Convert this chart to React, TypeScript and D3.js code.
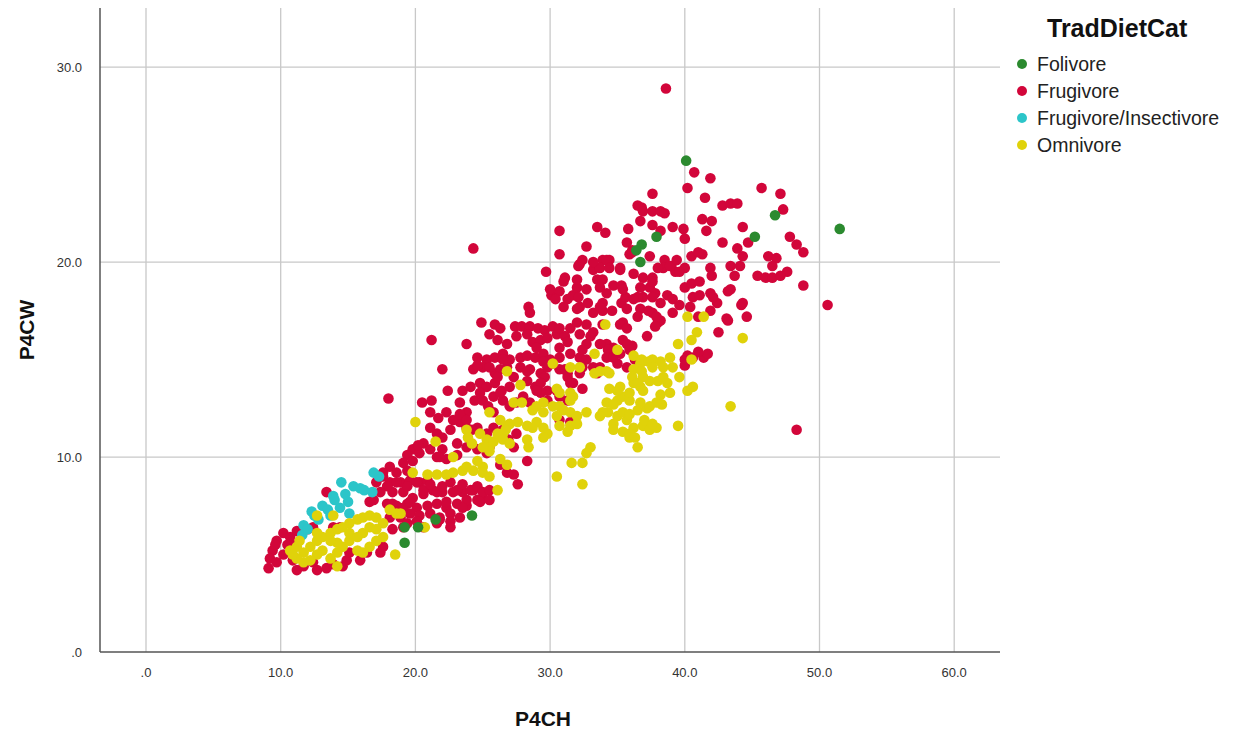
import React from "react";
import * as d3 from "d3";

const categories = ["Folivore", "Frugivore", "Frugivore/Insectivore", "Omnivore"];
const colors = ["#2b8a2f", "#d2063a", "#2cc5c9", "#e0d20a"];
const xTicks = [0, 10, 20, 30, 40, 50, 60];
const yTicks = [0, 10, 20, 30];

const folivore: [number, number][] = [
  [40.1, 25.2], [51.5, 21.7], [46.7, 22.4], [45.2, 21.3], [37.9, 21.3], [36.8, 20.9], [36.4, 20.6], [36.7, 20.0],
  [24.2, 7.0], [19.2, 6.4], [20.2, 6.4], [19.2, 5.6], [21.5, 6.8],
];

const frugInsect: [number, number][] = [
  [16.9, 9.2], [14.5, 8.7], [15.4, 8.5], [15.9, 8.4], [16.8, 8.2], [13.9, 8.0], [15.0, 7.7], [13.1, 7.5], [12.3, 7.2],
  [14.4, 7.4], [11.7, 6.5], [11.6, 6.0], [15.1, 7.1], [13.7, 7.0], [12.8, 6.8], [14.0, 7.8], [16.2, 8.3], [12.0, 6.3],
  [13.5, 7.3], [14.8, 8.1], [17.3, 9.0], [12.5, 7.0],
];

const frugivore: [number, number][] = [
  [40.7, 24.6], [41.9, 24.3], [40.2, 23.8], [37.6, 23.5], [41.5, 23.3], [45.7, 23.8], [47.1, 23.5], [47.3, 22.7],
  [42.8, 22.9], [43.4, 23.0], [43.9, 23.0], [36.8, 22.8], [37.6, 22.6], [38.2, 22.6], [38.5, 22.5], [36.7, 22.1],
  [37.6, 21.9], [38.2, 21.6], [39.1, 21.8], [39.9, 21.7], [40.0, 21.2], [41.3, 22.2], [42.0, 22.1], [41.6, 21.6],
  [44.3, 21.8], [42.8, 21.0], [43.9, 20.7], [44.7, 21.0], [47.8, 21.3], [48.3, 20.9], [48.8, 20.5], [37.4, 20.3],
  [38.5, 20.1], [39.0, 19.8], [38.4, 19.7], [39.3, 19.5], [40.0, 19.7], [40.5, 20.3], [41.3, 20.4], [41.0, 20.5],
  [41.9, 19.7], [42.0, 19.3], [43.4, 19.8], [44.1, 19.8], [43.7, 19.3], [44.3, 20.3], [46.2, 20.3], [46.8, 20.2],
  [46.5, 19.8], [45.4, 19.3], [46.0, 19.2], [46.5, 19.2], [47.6, 19.5], [47.1, 19.3], [48.8, 18.8], [50.6, 17.8],
  [36.9, 19.2], [37.6, 19.2], [37.4, 18.7], [36.9, 18.2], [37.8, 18.4], [38.7, 18.3], [39.1, 18.1], [39.6, 17.8],
  [40.4, 17.7], [40.0, 18.7], [40.5, 18.9], [41.1, 19.0], [41.9, 18.4], [42.4, 17.9], [43.2, 18.5], [44.2, 17.8],
  [44.6, 17.2], [39.1, 17.4], [37.6, 17.4], [38.0, 16.9], [43.2, 17.0], [42.5, 16.4], [38.6, 28.9], [48.3, 11.4],
  [30.7, 21.6], [33.5, 21.8], [34.1, 21.5], [32.7, 20.8], [32.2, 19.9], [33.9, 20.1], [34.4, 20.1], [35.8, 21.7],
  [35.7, 21.0], [36.1, 20.6], [35.2, 19.7], [36.5, 22.9], [36.9, 22.6],
  [24.3, 20.7], [30.7, 20.4], [32.1, 19.8], [32.4, 20.1], [35.9, 20.4], [29.7, 19.5], [31.1, 19.2], [31.0, 19.0],
  [33.2, 19.6], [33.7, 19.7], [34.2, 20.1], [34.4, 19.7], [35.2, 19.6], [33.5, 19.1], [33.9, 19.1], [34.7, 18.8],
  [35.3, 18.8], [38.9, 19.8], [39.4, 20.1], [39.6, 19.5], [43.4, 18.6], [30.1, 18.3], [30.7, 18.5], [30.4, 18.1],
  [31.3, 18.1], [31.7, 18.3], [32.0, 18.7], [32.7, 18.6], [32.2, 17.7], [32.8, 17.9], [33.9, 17.9], [33.9, 17.5],
  [35.3, 17.9], [35.6, 18.2], [36.5, 18.2], [36.7, 17.6], [38.2, 17.9], [40.6, 18.2], [41.1, 18.3], [42.1, 18.2],
  [28.4, 17.7], [28.5, 17.4], [33.2, 17.4], [33.9, 16.8], [35.4, 16.9], [36.5, 17.2], [38.2, 17.0], [41.0, 17.2],
  [41.9, 17.5], [43.1, 17.1], [24.9, 16.9], [25.9, 16.8], [26.3, 16.6], [27.4, 16.7], [27.9, 16.7], [28.5, 16.7],
  [29.1, 16.6], [29.6, 16.5], [30.2, 16.7], [31.5, 16.6], [32.0, 16.9], [32.7, 16.8], [23.8, 15.8], [25.5, 16.3],
  [26.1, 16.0], [26.8, 15.8], [27.5, 16.2], [28.3, 16.3], [28.7, 15.9], [29.3, 16.0], [29.8, 16.1], [30.5, 16.3],
  [31.1, 16.2], [32.2, 16.3], [33.0, 16.2], [34.2, 15.8], [34.7, 15.6], [35.4, 16.0], [36.1, 15.7], [37.2, 16.2],
  [24.6, 15.1], [25.3, 15.0], [25.9, 15.1], [26.5, 15.3], [27.0, 15.0], [27.8, 15.1], [28.3, 15.2], [28.9, 15.1],
  [29.5, 15.3], [30.0, 15.0], [30.7, 15.1], [31.5, 15.3], [32.2, 15.1], [24.3, 14.5], [25.0, 14.6], [25.9, 14.3],
  [26.8, 14.6], [27.8, 14.6], [28.5, 14.5], [29.3, 14.3], [30.7, 14.5], [31.3, 14.3], [32.4, 14.6], [33.7, 14.6],
  [35.0, 14.8], [35.7, 14.6], [40.0, 15.0], [40.6, 15.1], [41.4, 15.1], [41.7, 15.3], [22.0, 14.5],
  [33.2, 20.0], [36.1, 20.5], [36.2, 19.4], [37.6, 19.0], [38.0, 19.7], [32.0, 19.1], [32.1, 18.2], [33.7, 18.7],
  [34.2, 18.4], [35.4, 18.6], [36.7, 18.7], [37.6, 18.2], [30.0, 18.6], [31.0, 17.7], [32.0, 17.6], [33.7, 17.7],
  [34.6, 17.5], [35.7, 17.6], [36.2, 18.1], [37.3, 17.5], [37.9, 17.2], [37.8, 16.7], [30.7, 16.6], [33.2, 16.4],
  [35.2, 16.8], [35.7, 16.6], [29.0, 15.6], [30.7, 15.6], [31.3, 15.9], [32.7, 15.8], [32.4, 15.5], [33.7, 15.8],
  [34.3, 15.5], [35.7, 15.8], [35.9, 15.5], [24.6, 14.7], [29.5, 14.9], [28.3, 14.4], [29.6, 14.1], [26.3, 14.5],
  [24.8, 13.8], [25.3, 13.6], [25.9, 13.8], [26.4, 13.4], [27.0, 13.6], [28.3, 13.9], [28.9, 13.6], [29.3, 13.8],
  [29.8, 13.4], [31.3, 14.1], [31.7, 13.8], [32.4, 13.5], [30.5, 13.4], [23.5, 13.4], [23.3, 12.8], [23.8, 12.3],
  [24.4, 12.9], [25.0, 12.9], [25.4, 12.6], [25.8, 12.3], [26.5, 12.9], [27.0, 12.6], [27.5, 12.8], [28.0, 13.1],
  [28.5, 12.8], [29.3, 13.3], [29.8, 12.9], [30.7, 13.1], [31.3, 12.9], [30.7, 11.9], [31.5, 11.8], [33.5, 14.3],
  [34.2, 15.1], [36.3, 15.0], [23.3, 11.8], [23.8, 11.5], [24.6, 11.5], [25.3, 11.2], [25.8, 11.5], [26.5, 11.4],
  [44.3, 17.9], [41.0, 15.4], [40.2, 15.2], [40.0, 14.7],
  [18.0, 13.0], [22.4, 13.4], [20.5, 12.8], [21.2, 12.9], [21.2, 16.0], [25.5, 14.6], [26.1, 14.1], [26.5, 15.0],
  [24.1, 13.6], [24.8, 13.3], [25.8, 13.1], [26.3, 13.3], [27.3, 14.1], [29.0, 13.4], [29.8, 14.6], [30.2, 14.8],
  [31.1, 14.5], [31.5, 13.8], [32.2, 14.3], [32.7, 15.0], [33.2, 14.6], [34.7, 15.1], [35.2, 15.3], [21.1, 12.3],
  [21.7, 12.0], [22.3, 12.3], [22.8, 11.9], [23.3, 12.2], [23.8, 11.9], [24.2, 11.4], [21.1, 11.5], [21.6, 11.2],
  [22.0, 11.0], [22.6, 11.4], [20.6, 10.7], [19.8, 10.4], [19.4, 10.1], [20.3, 10.2], [21.1, 10.4], [21.6, 10.0],
  [22.0, 10.4], [22.3, 9.9], [23.1, 10.1], [23.8, 10.5], [24.6, 10.4], [25.3, 10.2], [26.9, 10.9], [27.3, 10.5],
  [27.5, 11.2], [28.3, 9.8], [27.3, 9.1], [27.6, 8.6], [26.3, 9.6], [26.8, 9.2], [18.1, 9.5], [18.6, 9.2],
  [19.4, 9.3], [17.6, 9.0], [18.1, 8.7], [18.9, 8.7], [19.6, 8.8], [20.3, 8.7], [20.9, 8.8], [18.3, 8.2],
  [19.1, 8.2], [19.8, 7.9], [20.6, 8.1], [21.3, 8.3], [22.0, 8.2], [22.8, 8.2], [23.5, 8.2], [24.3, 8.3],
  [17.9, 7.6], [18.6, 7.5], [19.4, 7.6], [20.1, 7.4], [20.9, 7.5], [21.6, 7.6], [22.3, 7.4], [23.1, 7.6],
  [23.8, 7.5], [24.6, 7.8], [25.0, 7.9], [19.6, 7.1], [20.3, 7.0], [21.1, 7.1], [21.8, 6.9], [22.6, 7.1],
  [20.2, 10.6], [21.8, 10.0], [23.1, 10.7], [25.5, 10.5], [19.8, 9.8], [19.1, 9.7], [17.6, 9.2], [18.6, 8.7],
  [17.9, 8.5], [17.4, 8.2], [16.9, 7.8], [16.6, 7.7], [19.4, 8.5], [20.1, 8.7], [20.6, 8.3], [21.1, 8.6],
  [21.6, 8.2], [22.0, 8.5], [22.6, 8.7], [23.1, 8.3], [23.5, 8.6], [24.1, 8.3], [24.6, 8.5], [25.0, 8.2],
  [25.5, 8.3], [18.3, 7.6], [19.1, 7.4], [19.6, 7.7], [22.3, 7.7], [23.8, 7.8], [24.8, 7.7], [25.5, 7.8],
  [18.1, 6.9], [18.9, 6.9], [19.4, 6.6], [20.1, 6.7], [21.8, 6.8], [22.6, 6.7], [23.3, 6.9], [23.5, 7.4],
  [18.3, 6.3], [19.1, 6.4], [20.6, 6.4], [21.6, 6.6], [22.6, 6.4], [13.4, 8.2], [17.1, 8.7], [17.4, 9.0],
  [10.2, 6.1], [9.7, 5.7], [10.7, 5.9], [11.2, 6.2], [9.4, 5.2], [9.2, 4.8], [9.7, 4.6], [9.1, 4.3],
  [10.2, 5.0], [10.9, 4.7], [11.2, 4.2], [11.7, 4.4], [12.4, 4.6], [12.7, 4.2], [13.4, 4.3], [13.9, 4.5],
  [14.6, 4.4], [14.9, 4.7], [12.0, 6.3], [12.4, 6.4], [17.4, 5.1], [17.6, 5.4], [15.1, 5.1], [15.9, 4.7],
  [16.4, 5.1], [13.9, 6.4], [14.4, 6.4], [10.5, 5.5], [9.6, 5.5], [11.1, 5.5],
];

const omnivore: [number, number][] = [
  [40.2, 17.2], [41.4, 17.2], [40.9, 16.4], [40.5, 16.0], [39.5, 15.8], [44.3, 16.1], [40.5, 15.0],
  [34.1, 16.8], [33.3, 15.3], [35.0, 15.5], [36.2, 15.2], [36.7, 14.8], [37.6, 15.0], [38.9, 15.1], [39.1, 14.6],
  [26.8, 14.4], [30.2, 14.8], [32.2, 14.6], [33.7, 14.4], [34.2, 14.4],
  [36.8, 15.0], [37.3, 14.9], [37.6, 14.6], [36.2, 14.5], [36.8, 14.4], [33.3, 14.3], [34.4, 14.3], [27.8, 13.7],
  [30.5, 13.5], [31.5, 13.3], [31.7, 13.1], [34.4, 13.5], [35.2, 13.6], [36.2, 13.8], [36.7, 13.6], [37.4, 13.9],
  [38.0, 13.9], [34.2, 12.8], [35.0, 12.9], [35.4, 13.1], [35.9, 12.9], [36.5, 12.4], [37.2, 12.5], [37.9, 12.8],
  [34.3, 12.3], [35.0, 12.1], [35.7, 11.9], [36.2, 11.5], [36.9, 11.6], [35.4, 11.3], [35.9, 11.2], [37.4, 11.4],
  [37.9, 11.5], [27.3, 12.8], [27.9, 12.8], [29.0, 12.6], [29.5, 12.8], [30.2, 12.6], [31.0, 12.4], [31.5, 12.3],
  [32.0, 12.1], [32.7, 12.3], [30.5, 12.1], [30.7, 11.6], [26.3, 11.9], [27.0, 11.7], [27.6, 11.8], [28.3, 11.6],
  [29.0, 11.8], [29.5, 11.5], [29.8, 11.2], [31.3, 11.3], [25.5, 12.3], [23.8, 11.4], [26.5, 11.2],
  [31.5, 14.6], [38.4, 14.6], [38.2, 14.9], [36.9, 14.1], [36.1, 14.1], [36.5, 13.8], [38.4, 14.1], [38.7, 13.8],
  [39.6, 14.1], [40.6, 13.6], [40.2, 13.4], [38.9, 13.3], [38.2, 13.2], [36.9, 13.4], [35.9, 13.3], [35.0, 13.4],
  [34.7, 12.7], [36.7, 12.8], [37.4, 12.6], [38.3, 12.7], [33.9, 12.3], [34.7, 11.7], [35.4, 12.3], [35.9, 12.2],
  [37.0, 11.9], [37.6, 11.7], [35.9, 11.0], [36.3, 11.0], [36.5, 10.5], [39.5, 11.6], [43.4, 12.6], [33.0, 10.5],
  [32.7, 10.2], [31.6, 9.7], [30.7, 13.3], [31.5, 12.9], [30.7, 12.6], [31.5, 11.6], [32.0, 11.7],
  [28.7, 12.4], [29.5, 12.3], [26.8, 11.6], [28.7, 11.5], [29.5, 11.0], [28.3, 10.9], [28.4, 10.5], [33.7, 12.1],
  [34.7, 11.4], [32.4, 9.7], [30.5, 9.0], [32.4, 8.6], [26.1, 8.3], [20.0, 11.8], [21.5, 10.8], [23.9, 11.0],
  [24.2, 10.7], [24.8, 11.2], [25.3, 10.9], [25.5, 10.5], [25.8, 10.8], [26.1, 11.2], [26.7, 11.4], [26.5, 10.9],
  [27.0, 10.7], [26.3, 9.9], [26.8, 9.6], [25.5, 10.3], [25.0, 9.5], [24.3, 9.3], [23.5, 9.3], [22.8, 9.2],
  [22.3, 9.1], [21.6, 9.1], [20.9, 9.1], [19.8, 9.2], [18.9, 7.1], [18.1, 7.3],
  [25.0, 9.2], [25.5, 9.0], [25.0, 10.5], [24.6, 9.8], [23.8, 9.5], [22.8, 10.0], [18.6, 7.1], [20.7, 6.4],
  [18.5, 5.0], [12.7, 7.0], [13.9, 7.0], [14.2, 4.4],
  [10.7, 5.2], [11.2, 5.4], [11.7, 5.1], [12.2, 5.4], [12.7, 5.7], [13.1, 5.9], [13.7, 6.1], [14.2, 6.3],
  [14.6, 6.4], [15.1, 6.6], [15.7, 6.8], [16.1, 6.9], [16.6, 7.0], [17.1, 6.9], [17.6, 6.6], [17.6, 5.9],
  [17.1, 5.7], [16.6, 5.4], [16.1, 5.1], [15.7, 5.2], [15.1, 5.7], [14.6, 5.4], [14.2, 5.1], [13.7, 4.8],
  [13.1, 5.2], [12.7, 5.0], [12.2, 4.7], [11.7, 4.6], [11.2, 4.8], [10.9, 5.0], [14.2, 5.6], [15.1, 6.1],
  [16.1, 6.1], [16.6, 6.4], [17.1, 6.3], [15.7, 5.9], [13.7, 5.7], [12.7, 6.1], [11.4, 5.7],
];

const W = 1239;
const H = 731;
const left = 100;
const right = 1000;
const top = 8;
const bottom = 652;

export default function App() {
  const x = d3.scaleLinear().domain([-3.415, 63.4]).range([left, right]);
  const y = d3.scaleLinear().domain([0, 33.03]).range([bottom, top]);
  const fmt = (v: number) => (v === 0 ? ".0" : d3.format(".1f")(v));
  const font = "'Liberation Sans', Arial, sans-serif";

  const layers: { data: [number, number][]; color: string }[] = [
    { data: frugivore, color: colors[1] },
    { data: frugInsect, color: colors[2] },
    { data: omnivore, color: colors[3] },
    { data: folivore, color: colors[0] },
  ];

  return (
    <svg width={W} height={H} style={{ position: "absolute", left: 0, top: 0, background: "#fff" }} fontFamily={font}>
      <rect x={0} y={0} width={W} height={H} fill="#fff" />
      {xTicks.map((t) => (
        <line key={"gx" + t} x1={x(t)} x2={x(t)} y1={top} y2={bottom} stroke="#c8c8c8" strokeWidth={1.3} />
      ))}
      {yTicks.filter((t) => t > 0).map((t) => (
        <line key={"gy" + t} x1={left} x2={right} y1={y(t)} y2={y(t)} stroke="#c8c8c8" strokeWidth={1.3} />
      ))}
      {layers.map((l, i) => (
        <g key={"l" + i}>
          {l.data.map((d, j) => (
            <circle key={j} cx={x(d[0])} cy={y(d[1])} r={5.3} fill={l.color} />
          ))}
        </g>
      ))}
      <line x1={left} x2={left} y1={top} y2={bottom} stroke="#555" strokeWidth={1.5} />
      <line x1={left} x2={right} y1={bottom} y2={bottom} stroke="#555" strokeWidth={1.5} />
      {xTicks.map((t) => (
        <text key={"tx" + t} x={x(t)} y={677} textAnchor="middle" fontSize={13} fill="#333">
          {fmt(t)}
        </text>
      ))}
      {yTicks.map((t) => (
        <text key={"ty" + t} x={82} y={y(t) + 5} textAnchor="end" fontSize={13} fill="#333">
          {fmt(t)}
        </text>
      ))}
      <text x={543} y={726} textAnchor="middle" fontSize={21} fontWeight="bold" fill="#111">
        P4CH
      </text>
      <text transform={`translate(34,330) rotate(-90)`} textAnchor="middle" fontSize={21} fontWeight="bold" fill="#111">
        P4CW
      </text>
      <text x={1047} y={37} fontSize={25} fontWeight="bold" fill="#111">
        TradDietCat
      </text>
      {categories.map((c, i) => (
        <g key={c}>
          <circle cx={1022} cy={64 + i * 27} r={5} fill={colors[i]} />
          <text x={1037} y={71 + i * 27} fontSize={19.5} fill="#222">
            {c}
          </text>
        </g>
      ))}
    </svg>
  );
}
